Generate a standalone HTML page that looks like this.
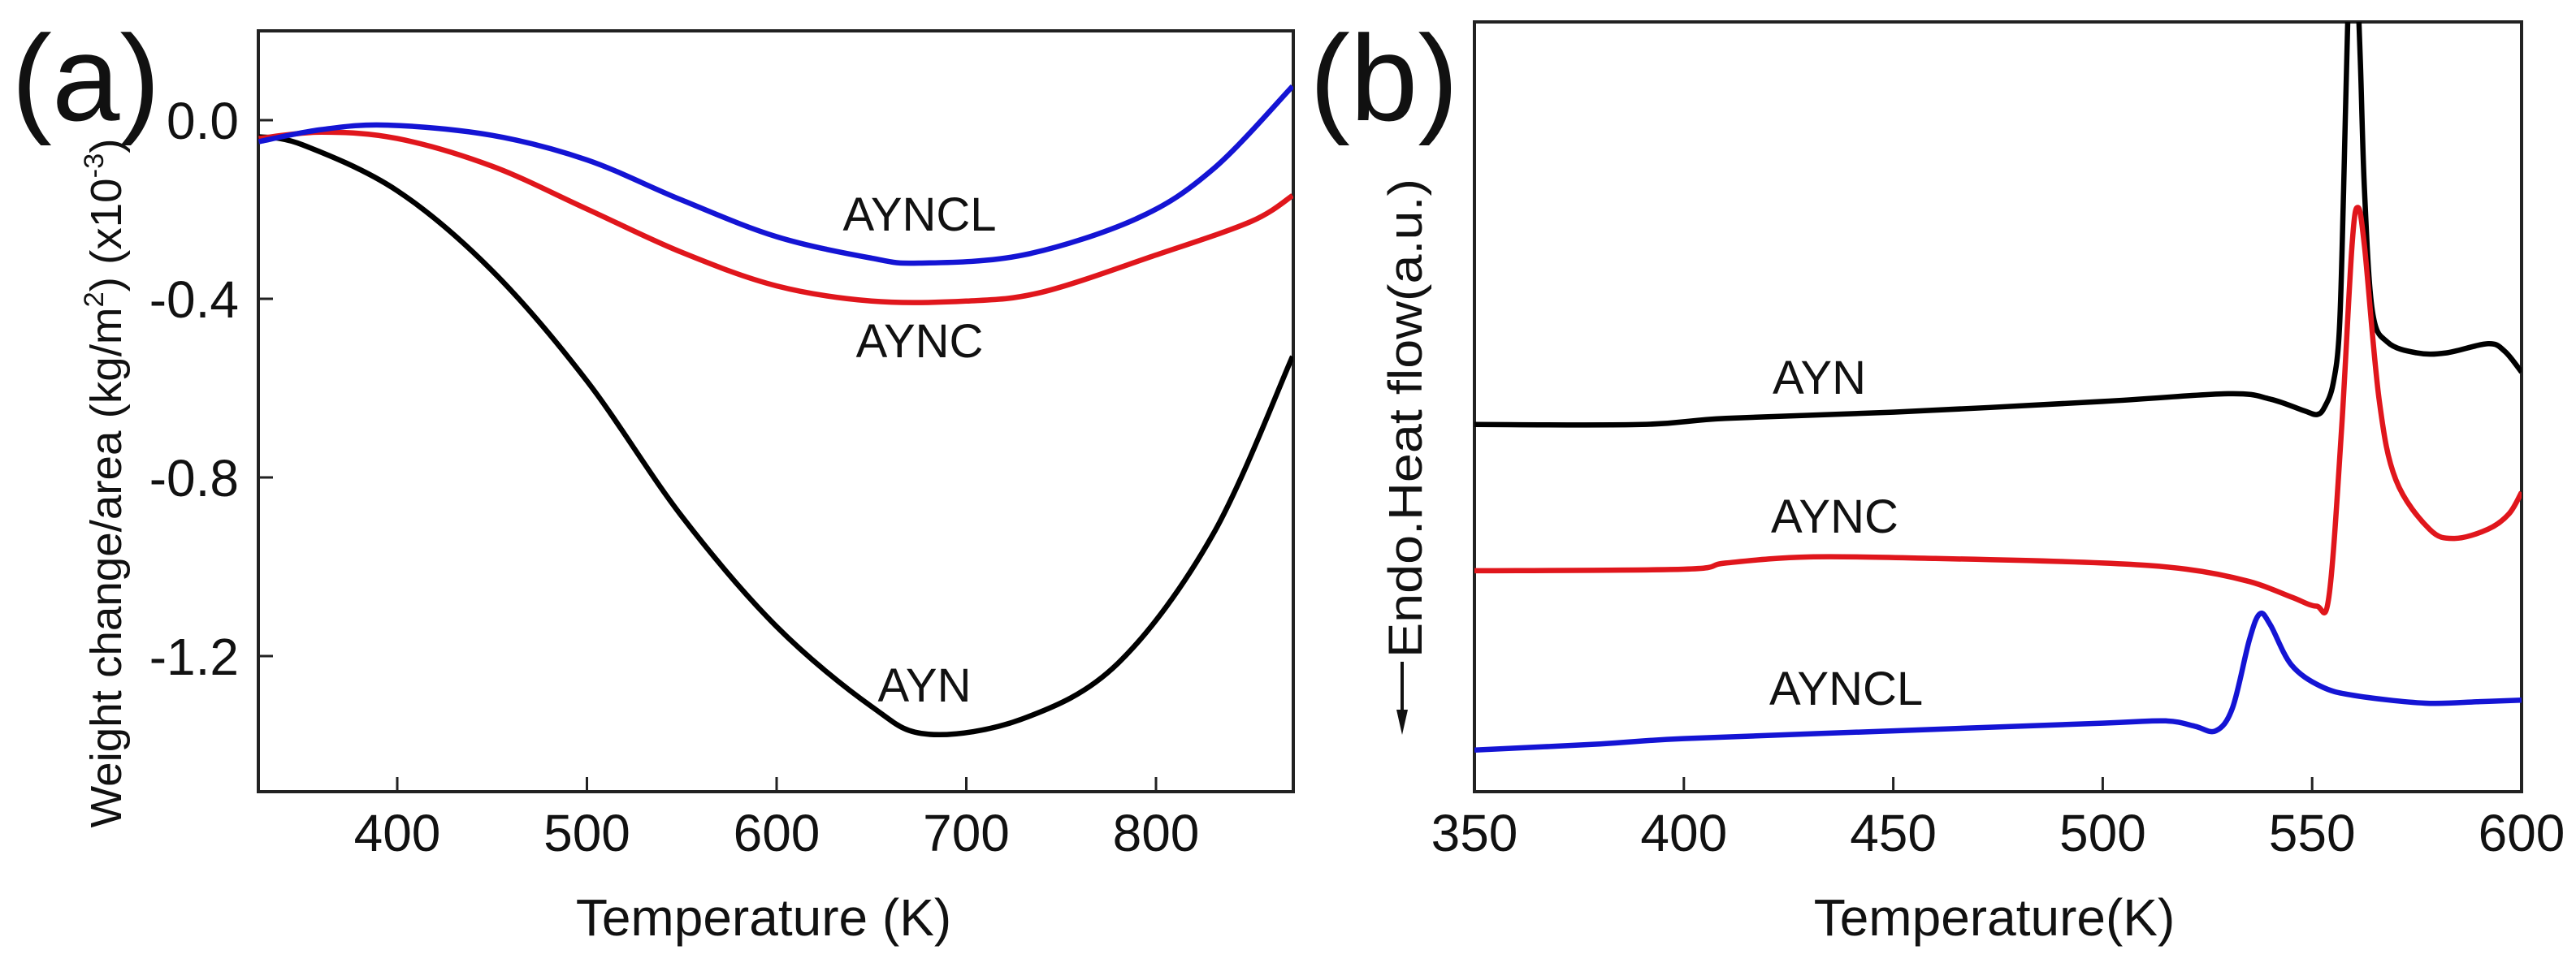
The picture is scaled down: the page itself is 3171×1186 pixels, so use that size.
<!DOCTYPE html>
<html><head><meta charset="utf-8"><style>
html,body{margin:0;padding:0;background:#fff;}
svg{display:block;font-family:"Liberation Sans",Arial,sans-serif;}
</style></head><body>
<svg id="fig" width="3171" height="1186" viewBox="0 0 3171 1186" xmlns="http://www.w3.org/2000/svg">
<defs>
<clipPath id="clipA"><rect x="318" y="38" width="1274" height="937"/></clipPath>
<clipPath id="clipB"><rect x="1815" y="27" width="1289" height="948"/></clipPath>
</defs>
<g id="panelA"></g>
<g id="panelB"></g>
</svg>
<script>
// Panel (a) data
var aTicksX = [400, 500, 600, 700, 800];
var aTicksY = [0.0, -0.4, -0.8, -1.2];
var aTickLabelsY = ["0.0", "-0.4", "-0.8", "-1.2"];
var aBlueT = [327, 360, 395, 450, 500, 550, 600, 650, 675, 730, 790, 830, 872];
var aBlueV = [-0.048, -0.021, -0.011, -0.034, -0.089, -0.179, -0.261, -0.309, -0.320, -0.302, -0.22, -0.11, 0.076];
var aRedT = [327, 360, 400, 450, 500, 550, 600, 650, 700, 740, 800, 850, 872];
var aRedV = [-0.041, -0.027, -0.041, -0.103, -0.199, -0.296, -0.371, -0.405, -0.405, -0.385, -0.302, -0.227, -0.169];
var aBlackT = [327, 350, 400, 450, 500, 550, 600, 650, 680, 730, 780, 830, 872];
var aBlackV = [-0.037, -0.055, -0.158, -0.337, -0.584, -0.887, -1.134, -1.313, -1.375, -1.340, -1.216, -0.928, -0.529];

// Panel (b) data (arbitrary units 0..100)
var bTicksX = [350, 400, 450, 500, 550, 600];
var bAynT = [350, 390, 410, 450, 500, 530, 540, 548, 551.2, 553, 555, 556.5, 557.5, 558.5, 559.5, 560.5, 561.5, 562.5, 564.4, 568, 575, 582, 592, 596, 600];
var bAynV = [47.7, 47.7, 48.5, 49.3, 50.7, 51.7, 51.0, 49.5, 49.0, 50, 53, 60, 78, 100, 110, 108, 95, 78, 62.4, 58.4, 57.0, 57.0, 58.2, 57.2, 54.5];
var bAyncT = [350, 400, 410, 430, 460, 500, 520, 535, 545, 551, 554, 557, 559.5, 560.9, 562.5, 566, 570, 578, 584, 592, 597, 600];
var bAyncV = [28.7, 28.9, 29.7, 30.5, 30.3, 29.7, 28.9, 27.3, 25.3, 24.1, 25.3, 46.9, 70.8, 75.9, 70.8, 50.9, 40.5, 34.1, 32.9, 34.1, 36.1, 38.9];
var bAynclT = [350, 380, 400, 450, 500, 515, 522, 527, 531, 535, 537.5, 540, 545, 552, 560, 577, 590, 600];
var bAynclV = [5.4, 6.2, 6.9, 7.9, 8.9, 9.2, 8.5, 7.9, 10.9, 19.7, 23.1, 21.7, 16.5, 13.7, 12.5, 11.5, 11.7, 11.9];

var NS = "http://www.w3.org/2000/svg";
function mk(tag, attrs, parent) {
  var e = document.createElementNS(NS, tag);
  for (var k in attrs) e.setAttribute(k, attrs[k]);
  parent.appendChild(e);
  return e;
}
function txt(s, attrs, parent) { var e = mk("text", attrs, parent); e.textContent = s; return e; }
function spline(pts) {
  var d = "M" + pts[0][0].toFixed(1) + "," + pts[0][1].toFixed(1);
  for (var i = 0; i < pts.length - 1; i++) {
    var p0 = pts[Math.max(0, i - 1)], p1 = pts[i], p2 = pts[i + 1], p3 = pts[Math.min(pts.length - 1, i + 2)];
    var t = 0.5 / 3 * 2;
    var c1x = p1[0] + (p2[0] - p0[0]) / 6, c1y = p1[1] + (p2[1] - p0[1]) / 6;
    var c2x = p2[0] - (p3[0] - p1[0]) / 6, c2y = p2[1] - (p3[1] - p1[1]) / 6;
    d += " C" + c1x.toFixed(1) + "," + c1y.toFixed(1) + " " + c2x.toFixed(1) + "," + c2y.toFixed(1) + " " + p2[0].toFixed(1) + "," + p2[1].toFixed(1);
  }
  return d;
}

// ---------- Panel A ----------
var A = document.getElementById("panelA");
var aL = 318, aR = 1592, aT = 38, aB = 975;
function axX(t) { return 489 + (t - 400) * (1423 - 489) / 400; }
function axY(v) { return 148 + (0 - v) * (368 - 148) / 0.4; }
var boxA = mk("rect", {x: aL, y: aT, width: aR - aL, height: aB - aT, fill: "none", stroke: "#222", "stroke-width": 4}, A);


aTicksX.forEach(function (t) {
  var x = axX(t);
  var l = mk("line", {x1: x, y1: aB, x2: x, y2: aB - 18, stroke: "#222", "stroke-width": 3}, A);
  
  
  var tl = txt(String(t), {x: x, y: 1048, "font-size": 64, "text-anchor": "middle", fill: "#111"}, A);
  
  
});
aTicksY.forEach(function (v, i) {
  var y = axY(v);
  var l = mk("line", {x1: aL, y1: y, x2: aL + 18, y2: y, stroke: "#222", "stroke-width": 3}, A);
  
  
  var tl = txt(aTickLabelsY[i], {x: 294, y: y + 23, "font-size": 64, "text-anchor": "end", fill: "#111"}, A);
  
  
});
var gA = mk("g", {"clip-path": "url(#clipA)"}, A);


[[aBlackT, aBlackV, "#000", "ayn-curve-a"], [aRedT, aRedV, "#e0161c", "aync-curve-a"], [aBlueT, aBlueV, "#1414d4", "ayncl-curve-a"]].forEach(function (s) {
  var pts = s[0].map(function (t, i) { return [axX(t), axY(s[1][i])]; });
  var p = mk("path", {d: spline(pts), fill: "none", stroke: s[2], "stroke-width": 6.5, "stroke-linejoin": "round"}, gA);
  
  
});
var la1 = txt("AYNCL", {x: 1132, y: 284, "font-size": 58, "text-anchor": "middle", fill: "#111"}, A);


var la2 = txt("AYNC", {x: 1132, y: 440, "font-size": 58, "text-anchor": "middle", fill: "#111"}, A);


var la3 = txt("AYN", {x: 1138, y: 864, "font-size": 58, "text-anchor": "middle", fill: "#111"}, A);


var xta = txt("Temperature (K)", {x: 940, y: 1152, "font-size": 64, "text-anchor": "middle", fill: "#111"}, A);


var yta = mk("text", {x: 0, y: 0, "font-size": 54, "text-anchor": "middle", fill: "#111", transform: "translate(149,595) rotate(-90)", textLength: 849, lengthAdjust: "spacingAndGlyphs"}, A);
yta.innerHTML = 'Weight change/area (kg/m<tspan dy="-22" font-size="34">2</tspan><tspan dy="22">) (x10</tspan><tspan dy="-22" font-size="34">-3</tspan><tspan dy="22">)</tspan>';


var pa = txt("(a)", {x: 14, y: 148, "font-size": 150, fill: "#111"}, A);



// ---------- Panel B ----------
var B = document.getElementById("panelB");
var bL = 1815, bR = 3104, bT = 27, bB = 975;
function bxX(t) { return bL + (t - 350) * (bR - bL) / 250; }
function bxY(v) { return bB - v * (bB - bT) / 100; }
var boxB = mk("rect", {x: bL, y: bT, width: bR - bL, height: bB - bT, fill: "none", stroke: "#222", "stroke-width": 4}, B);


bTicksX.forEach(function (t) {
  var x = bxX(t);
  var l = mk("line", {x1: x, y1: bB, x2: x, y2: bB - 18, stroke: "#222", "stroke-width": 3}, B);
  
  
  var tl = txt(String(t), {x: x, y: 1048, "font-size": 64, "text-anchor": "middle", fill: "#111"}, B);
  
  
});
var gB = mk("g", {"clip-path": "url(#clipB)"}, B);


[[bAynT, bAynV, "#000", "ayn-curve-b"], [bAyncT, bAyncV, "#e0161c", "aync-curve-b"], [bAynclT, bAynclV, "#1414d4", "ayncl-curve-b"]].forEach(function (s) {
  var pts = s[0].map(function (t, i) { return [bxX(t), bxY(s[1][i])]; });
  var p = mk("path", {d: spline(pts), fill: "none", stroke: s[2], "stroke-width": 6.5, "stroke-linejoin": "round"}, gB);
  
  
});
var lb1 = txt("AYN", {x: 2182, y: 485, "font-size": 58, fill: "#111"}, B);


var lb2 = txt("AYNC", {x: 2180, y: 656, "font-size": 58, fill: "#111"}, B);


var lb3 = txt("AYNCL", {x: 2178, y: 868, "font-size": 58, fill: "#111"}, B);


var xtb = txt("Temperature(K)", {x: 2455, y: 1152, "font-size": 64, "text-anchor": "middle", fill: "#111"}, B);


var ytb = txt("Endo.Heat flow(a.u.)", {x: 0, y: 0, "font-size": 58, "text-anchor": "middle", fill: "#111", transform: "translate(1750,515) rotate(-90)", textLength: 590, lengthAdjust: "spacingAndGlyphs"}, B);


var arr = mk("line", {x1: 1726, y1: 815, x2: 1726, y2: 880, stroke: "#111", "stroke-width": 4}, B);


var arrh = mk("polygon", {points: "1719,874 1733,874 1726,905", fill: "#111"}, B);


var pb = txt("(b)", {x: 1612, y: 148, "font-size": 150, fill: "#111"}, B);


</script>
</body></html>
